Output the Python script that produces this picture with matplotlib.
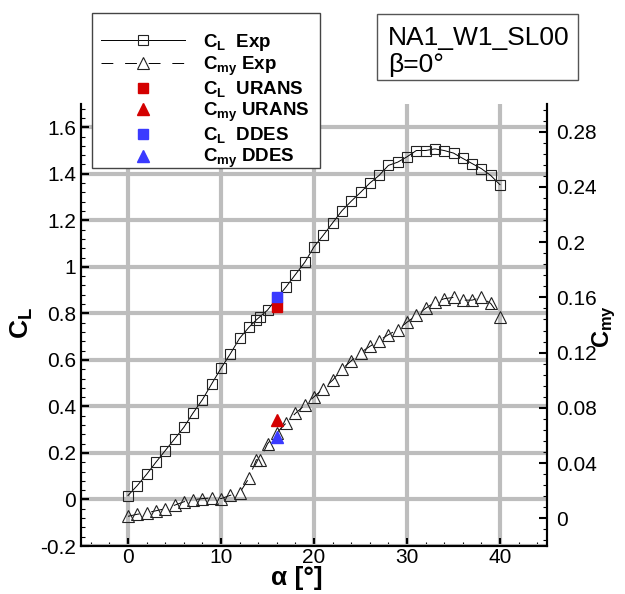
import numpy as np
import matplotlib
matplotlib.use("Agg")
import matplotlib.pyplot as plt
from matplotlib.ticker import MultipleLocator, FuncFormatter
from matplotlib.lines import Line2D
from matplotlib.patches import Rectangle

plt.rcParams["font.family"] = ["Liberation Sans", "DejaVu Sans"]
plt.rcParams["mathtext.fontset"] = "custom"
plt.rcParams["mathtext.rm"] = "Liberation Sans"
plt.rcParams["mathtext.bf"] = "Liberation Sans:bold"
plt.rcParams["mathtext.it"] = "Liberation Sans:italic"
plt.rcParams["lines.scale_dashes"] = False

alpha_exp = [0, 1, 2, 3, 4, 5, 6, 7, 8, 9, 10, 11, 12, 13, 13.8, 14.2, 15, 16,
             17, 18, 19, 20, 21, 22, 23, 24, 25, 26, 27, 28, 29, 30, 31, 32,
             33, 34, 35, 36, 37, 38, 39, 40]
cl_exp = [0.017, 0.060, 0.108, 0.160, 0.210, 0.260, 0.310, 0.372, 0.429,
          0.497, 0.564, 0.626, 0.693, 0.740, 0.772, 0.786, 0.814, 0.865,
          0.914, 0.967, 1.019, 1.086, 1.136, 1.189, 1.241, 1.282, 1.320,
          1.360, 1.393, 1.436, 1.450, 1.473, 1.500, 1.500, 1.507, 1.500,
          1.489, 1.466, 1.444, 1.422, 1.393, 1.353]
cmy_exp = [0.0015, 0.003, 0.004, 0.0055, 0.007, 0.0095, 0.012, 0.0135,
           0.0143, 0.0148, 0.0143, 0.0167, 0.0184, 0.029, 0.0425, 0.0425,
           0.054, 0.062, 0.069, 0.076, 0.082, 0.088, 0.094, 0.100, 0.108,
           0.114, 0.120, 0.1245, 0.1287, 0.133, 0.1367, 0.142, 0.147, 0.152,
           0.1566, 0.159, 0.160, 0.158, 0.158, 0.160, 0.1556, 0.146]

# simulacoes
alpha_cfd = [16]
cl_urans = [0.829]
cmy_urans = [0.071]
cl_ddes = [0.869]
cmy_ddes = [0.059]

VERMELHO = "#d40000"
AZUL = "#3a3aff"
CINZA_GRADE = "#bdbdbd"
BORDA = "#222222"
TRACO = (8.5, 8.5)

W, H = 625, 594
fig = plt.figure(figsize=(W / 100, H / 100), dpi=100)
ax = fig.add_axes([81.5 / W, 1 - 546 / H, 465 / W, 442 / H])
ax2 = ax.twinx()

ax.set_xlim(-5, 45)
ax.set_ylim(-0.2, 1.7)
ax2.set_ylim(-0.02, 0.30)

fmt = FuncFormatter(lambda v, p: "%g" % (round(v, 3) + 0.0))
ax.set_xticks(np.arange(0, 41, 10))
ax.xaxis.set_minor_locator(MultipleLocator(2))
ax.set_yticks(np.arange(-0.2, 1.61, 0.2))
ax.yaxis.set_minor_locator(MultipleLocator(0.04))
ax.yaxis.set_major_formatter(fmt)
ax2.set_yticks(np.arange(0, 0.281, 0.04))
ax2.yaxis.set_minor_locator(MultipleLocator(0.008))
ax2.yaxis.set_major_formatter(fmt)

for a in (ax, ax2):
    a.spines["top"].set_visible(False)
    for s in ("left", "right", "bottom"):
        a.spines[s].set_linewidth(1.5)
ax.tick_params(which="both", direction="in", top=False, right=False,
               labelsize=15)
ax.tick_params(which="major", length=6, width=1.5)
ax.tick_params(which="minor", length=3, width=0.8)
ax.tick_params(axis="y", pad=4)
ax.tick_params(axis="x", pad=1.5)
ax2.tick_params(which="both", direction="in", labelsize=15, pad=7)
ax2.tick_params(which="major", length=6, width=1.5)
ax2.tick_params(which="minor", length=3, width=0.8)

ax.grid(True, which="major", color=CINZA_GRADE, lw=3)
ax.set_axisbelow(True)

ax.plot(alpha_exp, cl_exp, "-", color="k", lw=0.7, marker="s", ms=7.2,
        mfc="none", mec=BORDA, mew=0.8)
ax2.plot(alpha_exp, cmy_exp, color="k", lw=0.7, dashes=TRACO, marker="^",
         ms=8.5, mfc="none", mec=BORDA, mew=0.8)
ax.plot(alpha_cfd, cl_urans, "s", color=VERMELHO, ms=7.2, zorder=4)
ax.plot(alpha_cfd, cl_ddes, "s", color=AZUL, ms=7.2, zorder=4)
ax2.plot(alpha_cfd, cmy_urans, "^", color=VERMELHO, ms=8.5, zorder=4)
ax2.plot(alpha_cfd, cmy_ddes, "^", color=AZUL, ms=8.5, zorder=4)

fig.text(22 / W, 1 - 323 / H, r"$\mathbf{C_L}$", fontsize=19, rotation=90,
         ha="center", va="center")
fig.text(604 / W, 1 - 326 / H, r"$\mathbf{C_{my}}$", fontsize=17, rotation=90,
         ha="center", va="center")
fig.text(297 / W, 1 - 578 / H, "α [°]", fontsize=19, fontweight="bold",
         ha="center", va="center")

handles = [
    Line2D([], [], color="k", lw=0.7, marker="s", ms=7.2, mfc="none",
           mec=BORDA, mew=0.8),
    Line2D([], [], color="k", lw=0.7, dashes=TRACO, marker="^", ms=8.5,
           mfc="none", mec=BORDA, mew=0.8),
    Line2D([], [], ls="none", marker="s", color=VERMELHO, ms=7.2),
    Line2D([], [], ls="none", marker="^", color=VERMELHO, ms=8.5),
    Line2D([], [], ls="none", marker="s", color=AZUL, ms=7.2),
    Line2D([], [], ls="none", marker="^", color=AZUL, ms=8.5),
]
labels = [r"$\mathbf{C_L}$  Exp", r"$\mathbf{C_{my}}$ Exp",
          r"$\mathbf{C_L}$  URANS", r"$\mathbf{C_{my}}$ URANS",
          r"$\mathbf{C_L}$  DDES", r"$\mathbf{C_{my}}$ DDES"]

# moldura da legenda desenhada a parte
fig.add_artist(Rectangle((92 / W, 1 - 168 / H), 228 / W, 155 / H,
                         transform=fig.transFigure, fc="white",
                         ec="#444444", lw=1.0, zorder=1))
fig.legend(handles, labels, loc="upper left",
           bbox_to_anchor=(101 / W, 1 - 32 / H),
           bbox_transform=fig.transFigure, numpoints=1,
           prop={"weight": "bold", "size": 13.5}, frameon=False,
           borderaxespad=0, borderpad=0, handlelength=4.5,
           handletextpad=0.95, labelspacing=0.08)

fig.add_artist(Rectangle((377 / W, 1 - 80 / H), 201 / W, 66 / H,
                         transform=fig.transFigure, fc="white",
                         ec="#555555", lw=1.0, zorder=1))
fig.text(388 / W, 1 - 45 / H, "NA1_W1_SL00", fontsize=19, va="baseline")
fig.text(388 / W, 1 - 72 / H, "β=0°", fontsize=19, va="baseline")

fig.savefig("out.png", dpi=100)
